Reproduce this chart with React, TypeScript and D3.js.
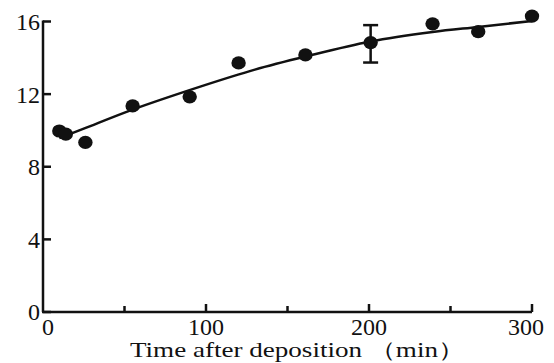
import React from 'react';
import { scaleLinear, line, curveCatmullRom } from 'd3';

// measured points (time in min, value)
const timeMin = [10, 14, 26, 55, 90, 120, 161, 201, 239, 267, 300];
const values = [9.97, 9.8, 9.34, 11.35, 11.85, 13.72, 14.16, 14.84, 15.87, 15.44, 16.3];
// error bar on the 200 min point
const errTime = [201];
const errLow = [13.74];
const errHigh = [15.8];
// fitted curve
const fitTime = [10, 25, 55, 96, 130, 161, 201, 239, 267, 300];
const fitValue = [9.58, 10.1, 11.15, 12.4, 13.35, 14.07, 14.9, 15.42, 15.7, 16.03];

const xMajor = [0, 100, 200, 300];
const xMinor = [50, 150, 250];
const yTicks = [0, 4, 8, 12, 16];
const xTitle = 'Time after deposition （min）';

export default function App() {
  const W = 554, H = 363;
  const x = scaleLinear().domain([0, 300]).range([43, 532]);
  const y = scaleLinear().domain([0, 16]).range([312, 21.5]);

  const fitLine = line<number>()
    .x((d, i) => x(fitTime[i]))
    .y(d => y(d))
    .curve(curveCatmullRom);

  const font = '"Liberation Serif", "Times New Roman", serif';

  return (
    <svg width={W} height={H} style={{ position: 'absolute', left: 0, top: 0, background: '#fff' }}>
      {/* axes */}
      <g stroke="#111" strokeWidth={2.5} fill="none">
        <line x1={x(0)} x2={x(0)} y1={y(0)} y2={y(16) - 1} />
        <line x1={x(0) - 1} x2={x(300)} y1={y(0)} y2={y(0)} />
        {yTicks.map(t => (
          <line key={'yt' + t} x1={x(0)} x2={x(0) + 8} y1={y(t)} y2={y(t)} />
        ))}
        {xMajor.filter(t => t > 0).map(t => (
          <line key={'xt' + t} x1={x(t)} x2={x(t)} y1={y(0)} y2={y(0) - 8} />
        ))}
        {xMinor.map(t => (
          <line key={'xm' + t} x1={x(t)} x2={x(t)} y1={y(0)} y2={y(0) - 6} />
        ))}
      </g>
      <g fontFamily={font} fontSize={24} fill="#111">
        {yTicks.map(t => (
          <text key={'yl' + t} x={40} y={y(t)} dy="0.35em" textAnchor="end">{t}</text>
        ))}
        {xMajor.map(t => (
          <text key={'xl' + t} x={x(t) + (t === 0 ? 5 : t === 300 ? -6 : 0)} y={335} textAnchor="middle">{t}</text>
        ))}
        <text x={130} y={357} fontSize={21} textLength={335} lengthAdjust="spacingAndGlyphs">{xTitle}</text>
      </g>
      {/* fitted curve */}
      <path d={fitLine(fitValue) || ''} fill="none" stroke="#111" strokeWidth={2.5} />
      {/* error bar */}
      <g stroke="#111" strokeWidth={2.5}>
        {errTime.map((t, i) => (
          <g key={'e' + i}>
            <line x1={x(t)} x2={x(t)} y1={y(errLow[i])} y2={y(errHigh[i])} />
            <line x1={x(t) - 7.5} x2={x(t) + 7.5} y1={y(errLow[i])} y2={y(errLow[i])} />
            <line x1={x(t) - 7.5} x2={x(t) + 7.5} y1={y(errHigh[i])} y2={y(errHigh[i])} />
          </g>
        ))}
      </g>
      {/* points */}
      <g fill="#111">
        {values.map((v, i) => (
          <ellipse key={'p' + i} cx={x(timeMin[i])} cy={y(v)} rx={7.2} ry={6.6} />
        ))}
      </g>
    </svg>
  );
}
